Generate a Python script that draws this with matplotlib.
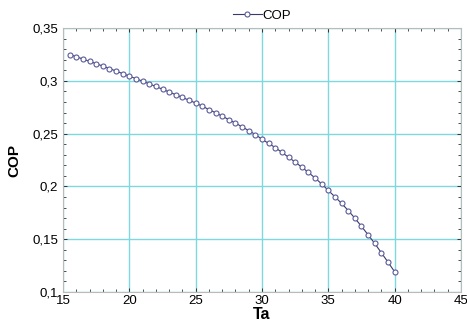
import numpy as np
import matplotlib
matplotlib.use("Agg")
import matplotlib.pyplot as plt
from matplotlib.ticker import MultipleLocator, FuncFormatter

plt.rcParams['font.family'] = ['Liberation Sans', 'DejaVu Sans']

# data
ta = [15.5, 16.0, 16.5, 17.0, 17.5, 18.0, 18.5, 19.0, 19.5, 20.0,
      20.5, 21.0, 21.5, 22.0, 22.5, 23.0, 23.5, 24.0, 24.5, 25.0,
      25.5, 26.0, 26.5, 27.0, 27.5, 28.0, 28.5, 29.0, 29.5, 30.0,
      30.5, 31.0, 31.5, 32.0, 32.5, 33.0, 33.5, 34.0, 34.5, 35.0,
      35.5, 36.0, 36.5, 37.0, 37.5, 38.0, 38.5, 39.0, 39.5, 40.0]
cop = [0.3250, 0.3229, 0.3207, 0.3185, 0.3163, 0.3140, 0.3117, 0.3093, 0.3069, 0.3045,
       0.3021, 0.2997, 0.2972, 0.2947, 0.2921, 0.2895, 0.2869, 0.2843, 0.2817, 0.2790,
       0.2760, 0.2729, 0.2698, 0.2666, 0.2633, 0.2600, 0.2565, 0.2529, 0.2492, 0.2447,
       0.2408, 0.2368, 0.2323, 0.2277, 0.2231, 0.2183, 0.2133, 0.2080, 0.2024, 0.1962,
       0.1902, 0.1840, 0.1772, 0.1700, 0.1622, 0.1542, 0.1460, 0.1372, 0.1283, 0.1192]

fig = plt.figure(figsize=(4.67, 3.27), dpi=100)
ax = fig.add_axes([0.135, 0.107, 0.852, 0.807])

ax.plot(ta, cop, '-o', color='#3a3a6a', lw=0.8, ms=3.6, mfc='white',
        mec='#5a5a9a', mew=0.8, label='COP', zorder=3)

ax.set_xlim(15, 45)
ax.set_ylim(0.1, 0.35)
ax.xaxis.set_major_locator(MultipleLocator(5))
ax.xaxis.set_minor_locator(MultipleLocator(1))
ax.yaxis.set_major_locator(MultipleLocator(0.05))
ax.yaxis.set_minor_locator(MultipleLocator(0.01))
ax.yaxis.set_major_formatter(FuncFormatter(lambda v, p: ('%g' % round(v, 2)).replace('.', ',')))

ax.grid(True, which='major', color='#7fd8de', lw=1.0)
ax.tick_params(which='both', direction='in', top=True, right=True,
               color='#333333', labelsize=9.5)
ax.tick_params(which='major', length=3, width=0.7)
ax.tick_params(which='minor', length=2, width=0.6)
ax.tick_params(axis='x', pad=2)
for s in ax.spines.values():
    s.set_color('#bbbbbb')
    s.set_linewidth(0.8)

ax.set_xlabel('Ta', fontsize=11.5, fontweight='bold', labelpad=0)
ax.set_ylabel('COP', fontsize=11, fontweight='bold', labelpad=8)

ax.legend(loc='lower center', bbox_to_anchor=(0.5, 1.0), frameon=False,
          fontsize=9.5, handlelength=2.2, handletextpad=0.1, borderaxespad=0.1)

fig.savefig('out.png', dpi=100)
